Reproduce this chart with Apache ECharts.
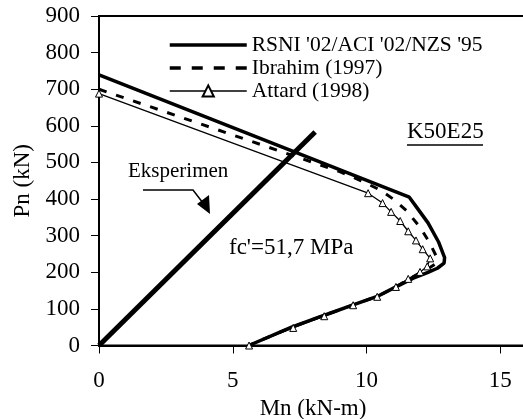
<!DOCTYPE html>
<html>
<head>
<meta charset="utf-8">
<script src="https://cdn.jsdelivr.net/npm/echarts@6/dist/echarts.min.js"></script>
<style>
  html, body { margin: 0; padding: 0; background: #fff; }
  #main { width: 523px; height: 419px; }
</style>
</head>
<body>
<div id="main"></div>
<script>
    // data (Mn in kN-m, Pn in kN)
    var rsniM = [0, 11.6, 11.85, 12.3, 12.7, 12.92, 12.9, 12.65, 12.3, 11.75, 11.1, 10.4, 9.5, 8.4, 7.2, 5.6];
    var rsniP = [739, 405, 380, 335, 282, 240, 225, 211, 200, 184, 160, 134, 111, 82, 50, 0];

    var ibraM = [0, 9.0, 9.8, 10.5, 11.0, 11.5, 12.0, 12.35, 12.6, 12.6, 12.2, 11.6, 11.1, 10.4, 9.5, 8.4, 7.2, 5.6];
    var ibraP = [700, 475, 450, 425, 400, 368, 323, 282, 245, 224, 205, 182, 160, 134, 111, 82, 50, 0];

    var attM = [0, 10.06, 10.6, 10.92, 11.26, 11.56, 11.85, 12.1, 12.38, 12.27, 12.0, 11.56, 11.1, 10.4, 9.5, 8.42, 7.26, 5.61];
    var attP = [688, 416, 389, 365, 340, 312, 287, 263, 238, 216, 201, 182, 160, 133, 110, 80, 48, 0];

    var expM = [0, 8.08];
    var expP = [0, 583];

    var seriesNames = ["RSNI '02/ACI '02/NZS '95", 'Ibrahim (1997)', 'Attard (1998)', 'Eksperimen'];
    var xTicks = [0, 5, 10, 15];

    function pairs(xs, ys) {
        return xs.map(function (x, i) { return [x, ys[i]]; });
    }

    var font = "'Liberation Serif', 'Times New Roman', serif";
    var myChart = echarts.init(document.getElementById('main'));

    var option = {
        animation: false,
        backgroundColor: '#fff',
        textStyle: { fontFamily: font, color: '#000' },
        grid: {
            left: 99, top: 16, right: -4, bottom: 73.5,
            outerBoundsMode: 'none',
            show: true, borderColor: '#000', borderWidth: 2
        },
        legend: {
            // no marker on the two plain lines
            data: [
                { name: seriesNames[0], itemStyle: { opacity: 0 }, lineStyle: { width: 3.5 } },
                { name: seriesNames[1], itemStyle: { opacity: 0 }, lineStyle: { width: 3.5, type: [11, 11] } },
                { name: seriesNames[2], lineStyle: { width: 1.3 } }
            ],
            orient: 'vertical',
            left: 163,
            top: 29,
            itemWidth: 77,
            itemHeight: 14,
            itemGap: 1,
            textStyle: { fontFamily: font, fontSize: 21.5, color: '#000', lineHeight: 20 }
        },
        xAxis: {
            type: 'value',
            min: 0, max: 16, interval: 5,
            name: 'Mn (kN-m)',
            nameLocation: 'middle',
            nameGap: 42,
            nameTextStyle: { fontFamily: font, fontSize: 23, color: '#000' },
            axisLine: { lineStyle: { color: '#000', width: 2 } },
            axisTick: { show: true, length: 8, lineStyle: { color: '#000', width: 1 } },
            axisLabel: {
                fontFamily: font, fontSize: 23, color: '#000', margin: 24,
                showMaxLabel: false,
                formatter: function (v) { return xTicks.indexOf(v) >= 0 ? String(v) : ''; }
            },
            splitLine: { show: false }
        },
        yAxis: {
            type: 'value',
            min: 0, max: 900, interval: 100,
            name: 'Pn (kN)',
            nameLocation: 'middle',
            nameGap: 57,
            nameTextStyle: { fontFamily: font, fontSize: 23, color: '#000' },
            axisLine: { show: true, lineStyle: { color: '#000', width: 2 } },
            axisTick: { show: true, length: 8, lineStyle: { color: '#000', width: 1 } },
            axisLabel: { fontFamily: font, fontSize: 23, color: '#000', margin: 19 },
            splitLine: { show: false }
        },
        series: [
            {
                name: seriesNames[0],
                type: 'line',
                data: pairs(rsniM, rsniP),
                symbol: 'none',
                color: '#000',
                lineStyle: { color: '#000', width: 3.5 }
            },
            {
                name: seriesNames[1],
                type: 'line',
                data: pairs(ibraM, ibraP),
                symbol: 'none',
                color: '#000',
                lineStyle: { color: '#000', width: 3, type: [8, 10] }
            },
            {
                name: seriesNames[2],
                type: 'line',
                data: pairs(attM, attP),
                symbol: 'triangle',
                symbolSize: 7,
                showSymbol: true,
                itemStyle: { color: '#fff', borderColor: '#000', borderWidth: 1 },
                lineStyle: { color: '#000', width: 1.3 }
            },
            {
                name: seriesNames[3],
                type: 'line',
                data: pairs(expM, expP),
                symbol: 'none',
                color: '#000',
                lineStyle: { color: '#000', width: 5 }
            }
        ],
        graphic: [
            {
                type: 'text', left: 128, top: 161,
                style: { text: 'Eksperimen', fontFamily: font, fontSize: 21, fill: '#000' }
            },
            {
                type: 'polyline',
                shape: { points: [[143, 190], [193, 190], [203, 203]] },
                style: { stroke: '#000', lineWidth: 1.5, fill: null }
            },
            {
                type: 'polygon',
                shape: { points: [[197, 204], [209, 195], [210, 214]] },
                style: { fill: '#000' }
            },
            {
                type: 'text', left: 229, top: 236,
                style: { text: "fc'=51,7 MPa", fontFamily: font, fontSize: 23, fill: '#000' }
            },
            {
                type: 'text', left: 407, top: 120,
                style: { text: 'K50E25', fontFamily: font, fontSize: 23, fill: '#000' }
            },
            {
                type: 'line',
                shape: { x1: 407, y1: 145, x2: 483, y2: 145 },
                style: { stroke: '#000', lineWidth: 1.5 }
            }
        ]
    };

    myChart.setOption(option);
    window.onresize = function () {
        myChart.resize();
    };
</script>
</body>
</html>
